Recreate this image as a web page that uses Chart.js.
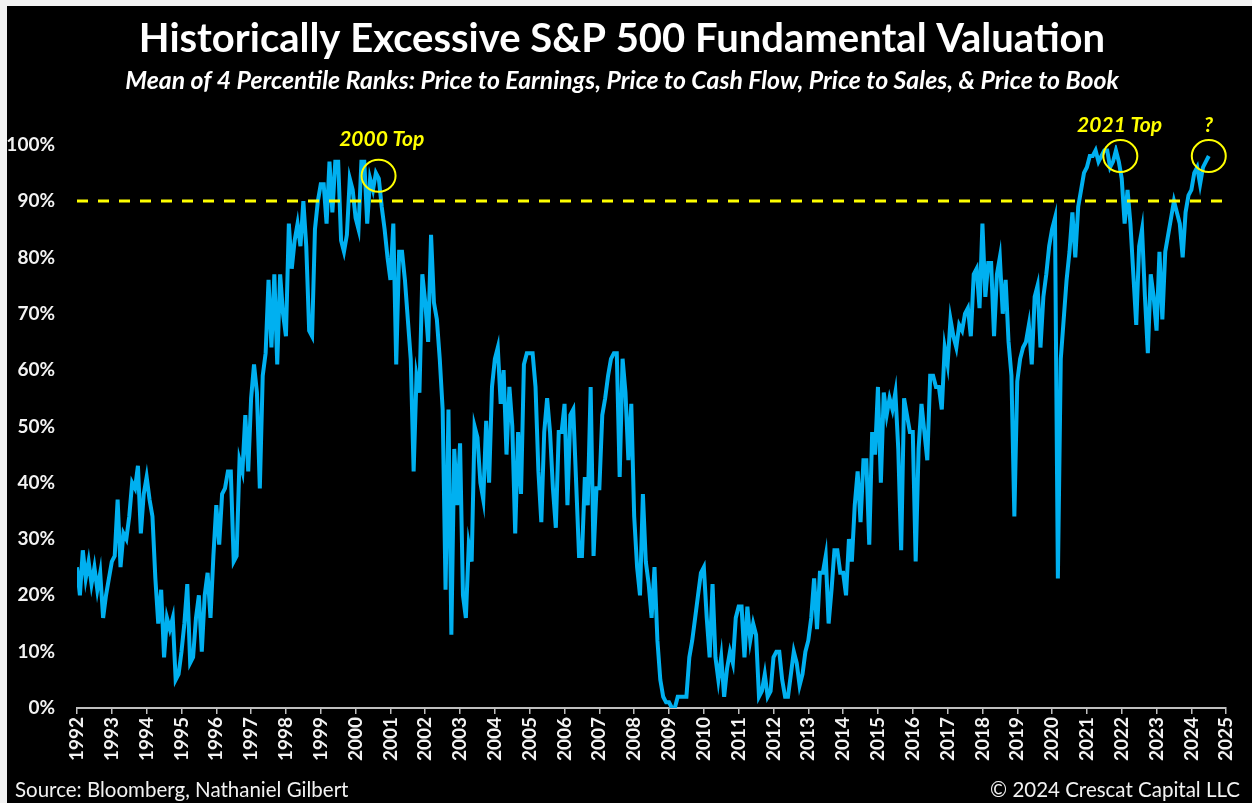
<!DOCTYPE html>
<html>
<head>
<meta charset="utf-8">
<title>Historically Excessive S&amp;P 500 Fundamental Valuation</title>
<script src="https://cdn.jsdelivr.net/npm/chart.js@4.4.1/dist/chart.umd.min.js"></script>
<style>
  html, body { margin: 0; padding: 0; background: #f2f2f2; }
  #wrap { position: absolute; left: 7px; top: 6px; width: 1245px; height: 797px; background: #000; }
</style>
</head>
<body>
<div id="wrap"><canvas id="valuation"></canvas></div>
<script>
// mean of 4 percentile ranks (%), monthly, Jan..Dec
const rank1990s = [ // starts Jan 1992
  25, 20, 28, 23, 26, 22, 25, 21, 24, 16, 20, 23,
  26, 27, 37, 25, 31, 30, 34, 40, 39, 43, 31, 38,
  41, 37, 34, 23, 15, 21,  9, 16, 14, 16,  5,  6,
  10, 15, 22,  8,  9, 16, 20, 10, 20, 24, 16, 27,
  36, 29, 38, 39, 42, 42, 26, 27, 44, 42, 52, 42,
  55, 61, 56, 39, 59, 63, 76, 64, 77, 61, 77, 70,
  66, 86, 78, 83, 86, 82, 90, 82, 67, 66, 85, 90,
  93, 93, 86, 97, 88, 97, 97, 83, 81, 84, 94, 92
];
const rank2000s = [
  87, 85, 97, 97, 86, 94, 92, 95, 94, 89, 85, 80,
  76, 86, 61, 81, 81, 76, 69, 62, 42, 59, 56, 77,
  72, 65, 84, 72, 69, 62, 53, 21, 53, 13, 46, 36,
  47, 20, 16, 29, 26, 50, 48, 40, 37, 51, 40, 57,
  62, 64, 54, 60, 45, 57, 50, 31, 49, 38, 61, 63,
  63, 63, 57, 42, 33, 49, 55, 49, 39, 32, 49, 49,
  54, 36, 52, 53, 40, 27, 27, 41, 36, 57, 27, 39,
  39, 52, 55, 59, 62, 63, 63, 41, 62, 56, 44, 54,
  34, 25, 20, 38, 26, 22, 16, 25, 12,  5,  2,  1,
   1,  0,  0,  2,  2,  2,  2,  9, 12, 16, 20, 24
];
const rank2010s = [
  25, 16,  9, 22,  9,  5,  9,  2,  7, 10,  8, 16,
  18, 18,  9, 18, 12, 15, 13,  2,  3,  6,  2,  3,
   9, 10, 10,  5,  2,  2,  6, 10,  8,  4,  6, 10,
  12, 16, 23, 14, 24, 24, 27, 15, 21, 28, 28, 24,
  24, 20, 30, 26, 36, 42, 33, 44, 44, 29, 49, 45,
  57, 40, 56, 52, 55, 53, 56, 46, 28, 55, 52, 49,
  49, 26, 46, 54, 49, 44, 59, 59, 57, 57, 53, 64,
  61, 69, 66, 64, 68, 67, 70, 71, 66, 77, 78, 71,
  86, 73, 79, 79, 66, 77, 80, 70, 76, 65, 59, 34,
  58, 62, 64, 65, 68, 61, 73, 75, 64, 73, 77, 82
];
const rank2020s = [
  85, 87, 23, 62, 69, 76, 81, 88, 80, 89, 92, 95,
  96, 98, 98, 99, 97, 98, 99, 99, 96, 97, 99, 97,
  94, 86, 92, 86, 77, 68, 82, 85, 73, 63, 77, 73,
  67, 81, 69, 81, 84, 87, 90, 88, 86, 80, 88, 91,
  92, 95, 96, 93, 96, 97, 98
];
const blockStarts = [1992, 2000, 2010, 2020];
const yearRange = [1992, 2025];
const threshold = 90;

const callouts = [
  { text: '2000 Top', label: [2000.75, 100.9], ring: [2000.66, 94.5] },
  { text: '2021 Top', label: [2021.94, 103.4], ring: [2021.96, 98.0] },
  { text: '?',        label: [2024.49, 103.4], ring: [2024.5, 98.0] }
];

const FONT = 'Lato, "Noto Sans", sans-serif';

const points = [];
[rank1990s, rank2000s, rank2010s, rank2020s].forEach((block, b) => {
  block.forEach((v, i) => points.push({ x: blockStarts[b] + i / 12, y: v }));
});

const extras = {
  id: 'extras',
  afterDatasetsDraw(chart) {
    const { ctx, scales: { x, y } } = chart;
    ctx.save();
    ctx.strokeStyle = '#ffff00';
    ctx.fillStyle = '#ffff00';
    ctx.lineWidth = 2;
    ctx.font = 'italic bold 21px ' + FONT;
    ctx.textAlign = 'center';
    ctx.textBaseline = 'middle';
    callouts.forEach(c => {
      ctx.beginPath();
      ctx.ellipse(x.getPixelForValue(c.ring[0]), y.getPixelForValue(c.ring[1]), 17, 16, 0, 0, Math.PI * 2);
      ctx.stroke();
      ctx.fillText(c.text, x.getPixelForValue(c.label[0]), y.getPixelForValue(c.label[1]));
    });
    ctx.restore();
  },
  afterDraw(chart) {
    const ctx = chart.ctx;
    ctx.save();
    ctx.fillStyle = '#f2f2f2';
    ctx.font = '20.5px ' + FONT;
    ctx.textBaseline = 'middle';
    ctx.textAlign = 'left';
    ctx.fillText('Source: Bloomberg, Nathaniel Gilbert', 8, 784);
    ctx.textAlign = 'right';
    ctx.fillText('\u00A9 2024 Crescat Capital LLC', 1233, 784);
    ctx.restore();
  }
};

new Chart(document.getElementById('valuation'), {
  type: 'line',
  data: {
    datasets: [
      {
        label: '90% line',
        data: [{ x: yearRange[0], y: threshold }, { x: yearRange[1], y: threshold }],
        borderColor: '#ffff00',
        borderWidth: 3,
        borderDash: [11, 10],
        pointRadius: 0,
        order: 0
      },
      {
        label: 'Mean percentile rank',
        data: points,
        borderColor: '#00b0f0',
        borderWidth: 4,
        pointRadius: 0,
        tension: 0,
        order: 1
      }
    ]
  },
  options: {
    responsive: true,
    maintainAspectRatio: false,
    animation: false,
    layout: { padding: { left: 0, right: 15, top: 0, bottom: 40 } },
    plugins: {
      legend: { display: false },
      tooltip: { enabled: false },
      title: {
        display: true,
        text: 'Historically Excessive S&P 500 Fundamental Valuation',
        color: '#ffffff',
        font: { family: FONT, size: 40, weight: 'bold' },
        padding: { top: 9, bottom: 1 }
      },
      subtitle: {
        display: true,
        text: 'Mean of 4 Percentile Ranks: Price to Earnings, Price to Cash Flow, Price to Sales, & Price to Book',
        color: '#ffffff',
        font: { family: FONT, size: 24.8, weight: 'bold', style: 'italic' },
        padding: { top: 2, bottom: 49 }
      }
    },
    scales: {
      x: {
        type: 'linear',
        min: yearRange[0],
        max: yearRange[1],
        afterFit: s => { s.height = 55; },
        grid: { drawOnChartArea: false, drawTicks: true, tickLength: 6, color: '#bfbfbf', lineWidth: 1.5 },
        border: { display: true, color: '#bfbfbf', width: 2 },
        ticks: {
          stepSize: 1,
          autoSkip: false,
          minRotation: 90,
          maxRotation: 90,
          padding: 3,
          color: '#f2f2f2',
          font: { family: FONT, size: 19, weight: 'bold' },
          callback: v => String(v)
        }
      },
      y: {
        min: 0,
        max: 100,
        afterFit: s => { s.width = 70; },
        grid: { display: false, drawTicks: false },
        border: { display: false },
        ticks: {
          stepSize: 10,
          padding: 22,
          color: '#f2f2f2',
          font: { family: FONT, size: 19, weight: 'bold' },
          callback: v => v + '%'
        }
      }
    }
  },
  plugins: [extras]
});
</script>
</body>
</html>
